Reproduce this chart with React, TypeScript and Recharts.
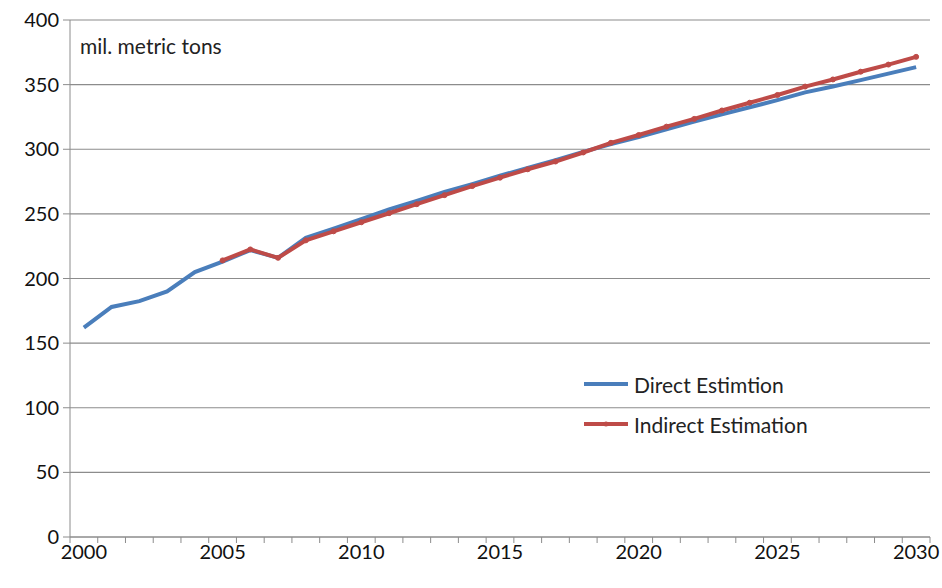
import { LineChart, Line, XAxis, YAxis, CartesianGrid } from 'recharts';

const years = [
  2000, 2001, 2002, 2003, 2004, 2005, 2006, 2007, 2008, 2009, 2010,
  2011, 2012, 2013, 2014, 2015, 2016, 2017, 2018, 2019, 2020,
  2021, 2022, 2023, 2024, 2025, 2026, 2027, 2028, 2029, 2030,
];

const direct = [
  162, 178, 182.5, 190, 205, 213, 222, 216, 231.5, 238.5, 246,
  253.5, 260, 267, 273, 279.5, 285.5, 291.5, 298, 304, 309.5,
  315.5, 321.5, 327, 332.5, 338, 344, 348.5, 353.5, 358.5, 363.5,
];

const indirect = [
  null, null, null, null, null, 214, 222.5, 216, 229.5, 236.5, 243.5,
  250.5, 257.5, 264.5, 271.5, 278, 284.5, 290.5, 297.5, 305, 311,
  317.5, 323.5, 330, 336, 342, 348.5, 354, 360, 365.5, 371.5,
];

const yTicks = [0, 50, 100, 150, 200, 250, 300, 350, 400];
const xLabelTicks = [2000, 2005, 2010, 2015, 2020, 2025, 2030];
const xBoundaryTicks = [...years.map((y) => y - 0.5), 2030.5];

const data = years.map((year, i) => ({ year, direct: direct[i], indirect: indirect[i] }));

const FONT = "Lato, 'Open Sans', sans-serif";
const BLUE = '#4A7EBB';
const RED = '#BE4B48';
const GRID = '#8c8c8c';

function LegendBox() {
  const row = (color: string, label: string, marker: boolean) => (
    <div style={{ display: 'flex', alignItems: 'center', height: 40 }}>
      <svg width={48} height={10} style={{ marginRight: 4 }}>
        <line x1={2} y1={5} x2={46} y2={5} stroke={color} strokeWidth={4} />
        {marker && <circle cx={24} cy={5} r={2.5} fill={color} />}
      </svg>
      <span style={{ fontSize: 21, color: '#222' }}>{label}</span>
    </div>
  );
  return (
    <div style={{ position: 'absolute', left: 582, top: 364, fontFamily: FONT }}>
      {row(BLUE, 'Direct Estimtion', false)}
      {row(RED, 'Indirect Estimation', true)}
    </div>
  );
}

export default function App() {
  return (
    <div style={{ position: 'absolute', left: 0, top: 0, width: 942, height: 588, background: '#fff', fontFamily: FONT }}>
      <LineChart width={942} height={588} data={data} margin={{ top: 20, right: 12, left: 0, bottom: 0 }}>
        <CartesianGrid horizontal vertical={false} stroke={GRID} strokeWidth={1.2} />
        <XAxis
          xAxisId="b"
          dataKey="year"
          type="number"
          domain={[1999.5, 2030.5]}
          ticks={xLabelTicks}
          interval={0}
          axisLine={false}
          tickLine={false}
          height={43}
          tickMargin={-6}
          tick={{ fontSize: 20, fill: '#111', fontFamily: FONT }}
        />
        <XAxis
          xAxisId="a"
          dataKey="year"
          type="number"
          domain={[1999.5, 2030.5]}
          ticks={xBoundaryTicks}
          tickFormatter={() => ''}
          stroke={GRID}
          tickSize={6}
          height={8}
          interval={0}
        />
        <YAxis
          domain={[0, 400]}
          ticks={yTicks}
          interval={0}
          width={70}
          stroke={GRID}
          tickSize={7}
          tickMargin={4}
          tick={{ fontSize: 20, fill: '#111', fontFamily: FONT }}
        />
        <Line
          xAxisId="a"
          type="linear"
          dataKey="direct"
          stroke={BLUE}
          strokeWidth={4}
          dot={false}
          isAnimationActive={false}
        />
        <Line
          xAxisId="a"
          type="linear"
          dataKey="indirect"
          stroke={RED}
          strokeWidth={4}
          dot={{ r: 2.5, fill: RED, stroke: RED, strokeWidth: 1 }}
          activeDot={false}
          isAnimationActive={false}
        />
      </LineChart>
      <div style={{ position: 'absolute', left: 80, top: 33, fontSize: 21, color: '#222' }}>mil. metric tons</div>
      <LegendBox />
    </div>
  );
}
